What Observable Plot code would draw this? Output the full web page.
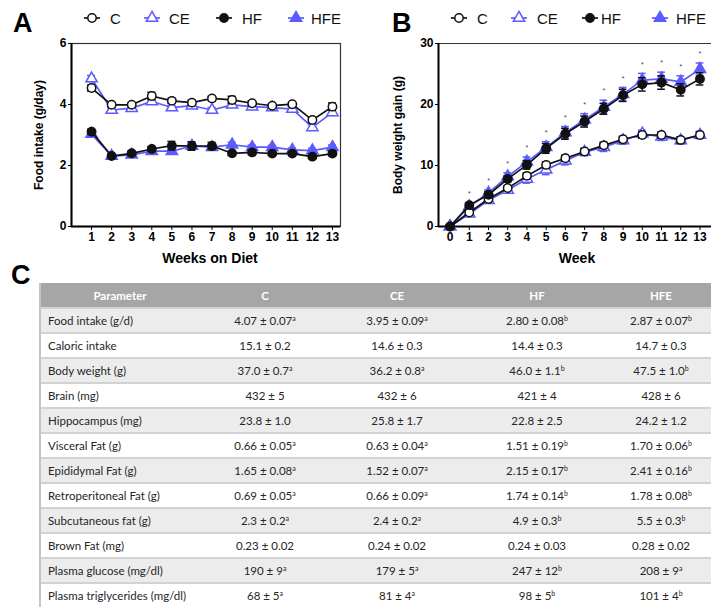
<!DOCTYPE html>
<html><head><meta charset="utf-8">
<script src="https://cdn.jsdelivr.net/npm/d3@7"></script>
<script src="https://cdn.jsdelivr.net/npm/@observablehq/plot@0.6"></script>
<style>
body{margin:0;background:#fff;}
#root{position:relative;width:711px;height:608px;overflow:hidden;font-family:"Liberation Sans",Arial,sans-serif;}
.panel{position:absolute;top:0;}
.panel svg [aria-label*="axis"] text{font-size:12px;font-weight:bold;}
#overlay{position:absolute;left:0;top:0;pointer-events:none;}
table{position:absolute;left:39px;top:283px;border-collapse:separate;border-spacing:0;font-family:Lato,"Open Sans",sans-serif;font-size:11.5px;color:#262626;table-layout:fixed;width:670px;border-left:2px solid #c4c4c4;}
th{background:#a6a6a6;color:#fff;font-weight:bold;height:24px;box-sizing:border-box;padding:0;text-align:center;}
td{height:25px;box-sizing:border-box;padding:0;text-align:center;border-top:2px solid #d2d2d2;white-space:nowrap;}
td.p{text-align:left;padding-left:7px;}
tbody tr:nth-child(odd) td{background:#ececec;}
sup{font-size:7px;line-height:0;vertical-align:4px;}
</style>
</head><body>
<div id="root">
  <div class="panel" id="pa" style="left:0"></div>
  <div class="panel" id="pb" style="left:355px"></div>
  <table id="tbl"></table>
  <svg id="overlay" width="711" height="608"></svg>
</div>
<script>
// ---------- Panel A: food intake ----------
const weeksA   = [1,2,3,4,5,6,7,8,9,10,11,12,13];
const foodC    = [4.54,3.99,3.99,4.28,4.12,4.06,4.20,4.15,4.04,3.96,4.01,3.49,3.93];
const foodCE   = [4.85,3.82,3.88,4.10,3.90,3.96,3.82,3.99,3.93,3.90,3.85,3.25,3.74];
const foodHF   = [3.11,2.31,2.40,2.54,2.65,2.64,2.64,2.40,2.43,2.39,2.39,2.29,2.39];
const foodHFE  = [3.03,2.31,2.35,2.47,2.47,2.64,2.60,2.68,2.60,2.60,2.51,2.49,2.60];
const foodErrC   = [0.10,0.06,0.06,0.12,0.08,0.08,0.07,0.12,0.08,0.06,0.06,0.08,0.12];
const foodErrCE  = [0.10,0.07,0.07,0.08,0.07,0.07,0.08,0.07,0.07,0.07,0.07,0.09,0.08];
const foodErrHF  = [0.08,0.06,0.07,0.08,0.14,0.14,0.12,0.07,0.07,0.06,0.06,0.06,0.07];
const foodErrHFE = [0.07,0.06,0.06,0.07,0.08,0.10,0.09,0.08,0.07,0.06,0.06,0.07,0.07];

// ---------- Panel B: body weight gain ----------
const weeksB  = [0,1,2,3,4,5,6,7,8,9,10,11,12,13];
const bwC     = [0,2.3,4.5,6.3,8.3,10.1,11.2,12.3,13.3,14.3,15.0,15.0,14.2,15.0];
const bwCE    = [0,2.1,4.3,6.0,7.8,9.3,10.8,12.2,13.0,14.1,15.2,14.7,14.1,15.0];
const bwHF    = [0,3.5,5.2,7.8,10.1,12.8,15.2,17.2,19.3,21.5,23.3,23.6,22.4,24.2];
const bwHFE   = [0,3.3,5.5,8.2,10.6,13.0,15.4,17.5,19.6,21.7,24.0,24.2,23.7,25.8];
const bwErrC   = [0,0.3,0.4,0.4,0.5,0.5,0.5,0.5,0.5,0.5,0.5,0.5,0.5,0.5];
const bwErrCE  = [0.3,0.4,0.5,0.5,0.7,0.8,0.7,0.6,0.7,0.6,0.6,0.6,0.6,0.6];
const bwErrHF  = [0,0.4,0.5,0.5,0.7,0.8,0.9,0.9,0.9,1.0,1.1,1.1,1.0,1.0];
const bwErrHFE = [0,0.4,0.5,0.6,0.8,0.9,1.0,1.0,1.1,1.1,1.1,1.1,1.0,1.0];
const sigWeeks = [1,2,3,4,5,6,7,8,9,10,11,12,13];

// ---------- Table C ----------
const parameters = ["Food intake (g/d)","Caloric intake","Body weight (g)","Brain (mg)","Hippocampus (mg)","Visceral Fat (g)","Epididymal Fat  (g)","Retroperitoneal Fat (g)","Subcutaneous fat (g)","Brown Fat (mg)","Plasma glucose (mg/dl)","Plasma triglycerides (mg/dl)"];
const groups = ["C","CE","HF","HFE"];
const tableC   = ["4.07 ± 0.07","15.1 ± 0.2","37.0 ± 0.7","432 ± 5","23.8 ± 1.0","0.66 ± 0.05","1.65 ± 0.08","0.69 ± 0.05","2.3 ± 0.2","0.23 ± 0.02","190 ± 9","68 ± 5"];
const tableCE  = ["3.95 ± 0.09","14.6 ± 0.3","36.2 ± 0.8","432 ± 6","25.8 ± 1.7","0.63 ± 0.04","1.52 ± 0.07","0.66 ± 0.09","2.4 ± 0.2","0.24 ± 0.02","179 ± 5","81 ± 4"];
const tableHF  = ["2.80 ± 0.08","14.4 ± 0.3","46.0 ± 1.1","421 ± 4","22.8 ± 2.5","1.51 ± 0.19","2.15 ± 0.17","1.74 ± 0.14","4.9 ± 0.3","0.24 ± 0.03","247 ± 12","98 ± 5"];
const tableHFE = ["2.87 ± 0.07","14.7 ± 0.3","47.5 ± 1.0","428 ± 6","24.2 ± 1.2","1.70 ± 0.06","2.41 ± 0.16","1.78 ± 0.08","5.5 ± 0.3","0.28 ± 0.02","208 ± 9","101 ± 4"];
const supC   = ["a","","a","","","a","a","a","a","","a","a"];
const supCE  = ["a","","a","","","a","a","a","a","","a","a"];
const supHF  = ["b","","b","","","b","b","b","b","","b","b"];
const supHFE = ["b","","b","","","b","b","b","b","","a","b"];

const BLUE = "#5b5bff", BLACK = "#111";
const FONT = "'Liberation Sans', Arial, sans-serif";

function rows(weeks, vals, errs){ return weeks.map((w,i)=>({week:w, value:vals[i], err:errs[i]})); }

function seriesMarks(data, color, fill, symbol, r, cap){
  return [
    Plot.line(data, {x:"week", y:"value", stroke:color, strokeWidth:1.7}),
    Plot.ruleX(data, {x:"week", y1:d=>d.value-d.err, y2:d=>d.value+d.err, stroke:color, strokeWidth:1.5}),
    Plot.ruleY(data, {y:d=>d.value+d.err, x1:d=>d.week-cap, x2:d=>d.week+cap, stroke:color, strokeWidth:1.5}),
    Plot.ruleY(data, {y:d=>d.value-d.err, x1:d=>d.week-cap, x2:d=>d.week+cap, stroke:color, strokeWidth:1.5}),
    Plot.dot(data, {x:"week", y:"value", symbol, r, fill, stroke:color, strokeWidth:1.5})
  ];
}

const plotA = Plot.plot({
  width:355, height:270, marginLeft:71, marginRight:15, marginTop:43, marginBottom:44,
  style:{fontFamily:FONT, fontSize:"12px", fontWeight:"bold", color:"#000", background:"transparent"},
  x:{domain:[0,13.4], ticks:weeksA, tickSize:4, tickPadding:2, tickFormat:d=>String(d), label:null},
  y:{domain:[0,6], ticks:[0,2,4,6], tickSize:3, tickPadding:2, tickFormat:d=>String(d), label:null},
  marks:[
    Plot.frame({stroke:"#333", strokeWidth:1.2}),
    Plot.ruleX([0], {stroke:"#000", strokeWidth:2}),
    Plot.ruleY([0], {stroke:"#000", strokeWidth:2}),
    ...seriesMarks(rows(weeksA, foodCE, foodErrCE), BLUE, "#fff", "triangle", 4.2, 0.2),
    ...seriesMarks(rows(weeksA, foodHFE, foodErrHFE), BLUE, BLUE, "triangle", 4.2, 0.2),
    ...seriesMarks(rows(weeksA, foodC, foodErrC), BLACK, "#fff", "circle", 4.2, 0.2),
    ...seriesMarks(rows(weeksA, foodHF, foodErrHF), BLACK, BLACK, "circle", 4.2, 0.2),
    Plot.text(["Food intake (g/day)"], {frameAnchor:"left", dx:-32, rotate:-90, textAnchor:"middle", lineAnchor:"middle", fontSize:12, fontWeight:"bold"}),
    Plot.text(["Weeks on Diet"], {frameAnchor:"bottom", dy:32, dx:4, textAnchor:"middle", lineAnchor:"middle", fontSize:14, fontWeight:"bold"})
  ]
});
document.getElementById("pa").append(plotA);

const bwHFERows = rows(weeksB, bwHFE, bwErrHFE), bwHFRows = rows(weeksB, bwHF, bwErrHF);
const starRows = sigWeeks.map(w=>{
  const i = weeksB.indexOf(w);
  return {week:w, top:Math.max(bwHF[i]+bwErrHF[i], bwHFE[i]+bwErrHFE[i])};
});

const plotB = Plot.plot({
  width:356, height:270, marginLeft:83, marginRight:0, marginTop:43, marginBottom:44,
  style:{fontFamily:FONT, fontSize:"12px", fontWeight:"bold", color:"#000", background:"transparent"},
  x:{domain:[-0.6,13.6], ticks:weeksB, tickSize:4, tickPadding:2, tickFormat:d=>String(d), label:null},
  y:{domain:[0,30], ticks:[0,10,20,30], tickSize:3, tickPadding:2, tickFormat:d=>String(d), label:null},
  marks:[
    Plot.ruleY([30], {stroke:"#333", strokeWidth:1.2}),
    Plot.ruleX([-0.6], {stroke:"#000", strokeWidth:2}),
    Plot.ruleY([0], {stroke:"#000", strokeWidth:2}),
    ...seriesMarks(rows(weeksB, bwCE, bwErrCE), BLUE, "#fff", "triangle", 4.2, 0.2),
    ...seriesMarks(bwHFERows, BLUE, BLUE, "triangle", 4.2, 0.2),
    ...seriesMarks(rows(weeksB, bwC, bwErrC), BLACK, "#fff", "circle", 4.2, 0.2),
    ...seriesMarks(bwHFRows, BLACK, BLACK, "circle", 4.2, 0.2),
    Plot.text(starRows, {x:"week", y:"top", text:()=>"*", dy:-9, fontSize:7, fontWeight:"normal", fill:"#444"}),
    Plot.text(["Body weight gain (g)"], {frameAnchor:"left", dx:-40, rotate:-90, textAnchor:"middle", lineAnchor:"middle", fontSize:12, fontWeight:"bold"}),
    Plot.text(["Week"], {frameAnchor:"bottom", dy:32, dx:2, textAnchor:"middle", lineAnchor:"middle", fontSize:14, fontWeight:"bold"})
  ]
});
document.getElementById("pb").append(plotB);

// ---------- overlay: panel letters and legends ----------
const ov = d3.select("#overlay");
const letters = [["A",13,32],["B",392,32],["C",11,284]];
ov.selectAll("text.letter").data(letters).join("text").attr("class","letter")
  .attr("x",d=>d[1]).attr("y",d=>d[2]).text(d=>d[0])
  .style("font", "bold 27px " + FONT);

const legendStyle = {C:[BLACK,"#fff",d3.symbolCircle], CE:[BLUE,"#fff",d3.symbolTriangle], HF:[BLACK,BLACK,d3.symbolCircle], HFE:[BLUE,BLUE,d3.symbolTriangle]};
const legendA = [["C",92,110],["CE",152,169],["HF",224,242],["HFE",296,311]];
const legendB = [["C",459,477],["CE",519,537],["HF",590,601],["HFE",660,676]];
function drawLegend(items){
  const g = ov.append("g");
  items.forEach(([k,sx,tx])=>{
    const [c,f,sym] = legendStyle[k];
    g.append("line").attr("x1",sx-8).attr("x2",sx+8).attr("y1",18).attr("y2",18).attr("stroke",c).attr("stroke-width",1.7);
    g.append("path").attr("d", d3.symbol(sym, Math.PI*4.2*4.2)()).attr("transform",`translate(${sx},18)`)
      .attr("fill",f).attr("stroke",c).attr("stroke-width",1.5);
    g.append("text").attr("x",tx).attr("y",23.5).text(k).style("font","15px " + FONT).attr("fill","#111");
  });
}
drawLegend(legendA);
drawLegend(legendB);

// ---------- table ----------
const tbl = d3.select("#tbl");
const widths = [158,132,132,148,100];
tbl.append("colgroup").selectAll("col").data(widths).join("col").style("width",d=>d+"px");
tbl.append("thead").append("tr").selectAll("th").data(["Parameter", ...groups]).join("th").text(d=>d);
const cols = [[tableC,supC],[tableCE,supCE],[tableHF,supHF],[tableHFE,supHFE]];
const tb = tbl.append("tbody");
parameters.forEach((p,i)=>{
  const tr = tb.append("tr");
  tr.append("td").attr("class","p").text(p);
  cols.forEach(([vals,sups])=>{
    const td = tr.append("td").text(vals[i]);
    if (sups[i]) td.append("sup").text(sups[i]);
  });
});
</script>
</body></html>
